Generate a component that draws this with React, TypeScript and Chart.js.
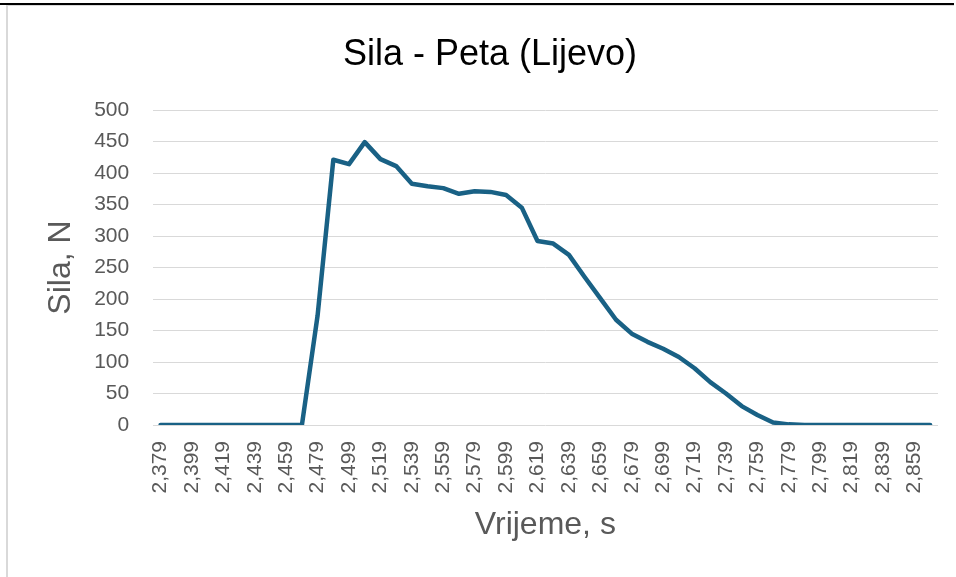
import React, { useEffect, useRef } from 'react';
import { Chart, registerables } from 'chart.js';

Chart.register(...registerables);

const chartTitle = 'Sila - Peta (Lijevo)';
const xAxisTitle = 'Vrijeme, s';
const yAxisTitle = 'Sila, N';

const timeLabels = [
  '2,379', '2,389', '2,399', '2,409', '2,419', '2,429', '2,439', '2,449', '2,459', '2,469',
  '2,479', '2,489', '2,499', '2,509', '2,519', '2,529', '2,539', '2,549', '2,559', '2,569',
  '2,579', '2,589', '2,599', '2,609', '2,619', '2,629', '2,639', '2,649', '2,659', '2,669',
  '2,679', '2,689', '2,699', '2,709', '2,719', '2,729', '2,739', '2,749', '2,759', '2,769',
  '2,779', '2,789', '2,799', '2,809', '2,819', '2,829', '2,839', '2,849', '2,859', '2,869',
];

const forceValues = [
  0, 0, 0, 0, 0, 0, 0, 0, 0, 0,
  174, 421, 414, 449, 422, 411, 383, 379, 376, 367,
  371, 370, 365, 345, 292, 288, 270, 235, 201, 167,
  145, 132, 121, 108, 90, 68, 50, 30, 16, 4,
  1, 0, 0, 0, 0, 0, 0, 0, 0, 0,
];

const yMin = 0;
const yMax = 500;
const yStep = 50;

const titlePlugin = {
  id: 'customTitle',
  afterDraw(chart: any) {
    const ctx = chart.ctx;
    ctx.save();
    ctx.font = 'normal 36px "Liberation Sans"';
    ctx.fillStyle = '#000000';
    ctx.textAlign = 'center';
    ctx.textBaseline = 'alphabetic';
    ctx.fillText(chartTitle, 490, 64.5);
    ctx.restore();
  },
};

export default function App() {
  const canvasRef = useRef<HTMLCanvasElement | null>(null);

  useEffect(() => {
    document.body.style.margin = '0';
    const canvas = canvasRef.current;
    if (!canvas) return;
    const chart = new Chart(canvas, {
      type: 'line',
      data: {
        labels: timeLabels,
        datasets: [
          {
            data: forceValues,
            borderColor: '#196185',
            borderWidth: 4.5,
            pointRadius: 0,
            tension: 0,
            borderJoinStyle: 'round',
            borderCapStyle: 'round',
            fill: false,
          },
        ],
      },
      plugins: [titlePlugin],
      options: {
        responsive: false,
        animation: false,
        layout: { padding: { top: 110, right: 18, bottom: 0, left: 0 } },
        plugins: {
          legend: { display: false },
          tooltip: { enabled: false },
          title: { display: false },
        },
        scales: {
          x: {
            type: 'category',
            offset: true,
            grid: { display: false, drawTicks: false },
            border: { display: false },
            ticks: {
              autoSkip: false,
              minRotation: 90,
              maxRotation: 90,
              padding: 16,
              color: '#595959',
              font: { family: 'Liberation Sans', size: 21 },
              callback: (_v: any, i: number) => (i % 2 === 0 ? timeLabels[i] : ''),
            },
            title: {
              display: true,
              text: xAxisTitle,
              color: '#595959',
              font: { family: 'Liberation Sans', size: 32 },
              padding: { top: 0, bottom: 32.8 },
            },
            afterFit: (scale: any) => {
              scale.height = 152;
              scale.paddingLeft = 0;
              scale.paddingRight = 0;
            },
          },
          y: {
            min: yMin,
            max: yMax,
            grid: { color: '#d9d9d9', lineWidth: 1, drawTicks: false },
            border: { display: false },
            ticks: {
              stepSize: yStep,
              padding: 23.5,
              color: '#595959',
              font: { family: 'Liberation Sans', size: 21 },
            },
            title: {
              display: true,
              text: yAxisTitle,
              color: '#595959',
              font: { family: 'Liberation Sans', size: 32 },
              padding: { top: 42.3, bottom: 0 },
            },
            afterFit: (scale: any) => {
              scale.width = 152.7;
            },
          },
        },
      },
    });
    return () => chart.destroy();
  }, []);

  return (
    <div style={{ position: 'relative', width: 956, height: 577, background: '#ffffff', overflow: 'hidden' }}>
      <canvas ref={canvasRef} width={956} height={577} style={{ position: 'absolute', left: 0, top: 0 }} />
      <div style={{ position: 'absolute', left: 0, top: 3, width: 954, height: 2, background: '#000000' }} />
      <div style={{ position: 'absolute', left: 6, top: 5, width: 948, height: 1, background: '#d9d9d9' }} />
      <div style={{ position: 'absolute', left: 6, top: 5, width: 1.5, height: 572, background: '#d9d9d9' }} />
    </div>
  );
}
